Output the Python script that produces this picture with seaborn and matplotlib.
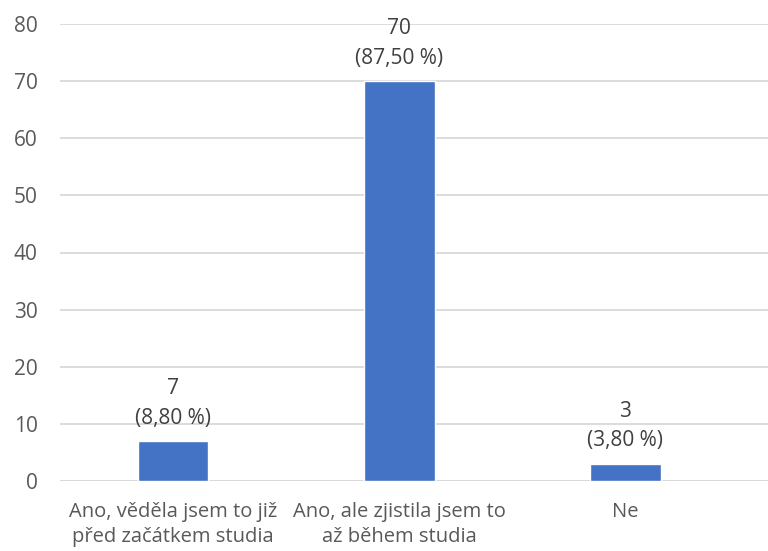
import matplotlib
matplotlib.use("Agg")
import matplotlib.pyplot as plt
import seaborn as sns
import pandas as pd

categories = ["Ano, věděla jsem to již\npřed začátkem studia",
              "Ano, ale zjistila jsem to\naž během studia",
              "Ne"]
values = [7, 70, 3]
percents = ["8,80 %", "87,50 %", "3,80 %"]

sns.set_theme(style="white")
plt.rcParams['font.family'] = ['Open Sans', 'DejaVu Sans']

df = pd.DataFrame({"cat": categories, "val": values})

fig = plt.figure(figsize=(7.68, 5.51), dpi=100)
ax = fig.add_axes([60/768, 1-481/551, 1-60/768, (481-24)/551])
sns.barplot(data=df, x="cat", y="val", color="#4472C4", width=0.313,
            saturation=1, ax=ax, zorder=3)

ax.set_ylim(0, 80)
ax.set_xlim(-0.5, 2.63)
ax.set_yticks(range(0, 81, 10))
ax.yaxis.grid(True, color="#D9D9D9", linewidth=1.3, zorder=0)
ax.set_axisbelow(True)
for s in ax.spines.values():
    s.set_visible(False)
ax.axhline(0, color="#D9D9D9", linewidth=1.3, zorder=1)
ax.set_xlabel("")
ax.set_ylabel("")
ax.tick_params(axis="y", labelsize=15, colors="#595959", pad=16, length=0)
ax.tick_params(axis="x", labelsize=14.5, colors="#595959", pad=15, length=0)
for lbl in ax.get_xticklabels():
    lbl.set_linespacing(1.35)

for i, (v, p) in enumerate(zip(values, percents)):
    ax.annotate(f"{v}\n({p})", xy=(i, v), xytext=(0, 9), textcoords="offset points",
                ha="center", va="bottom", fontsize=15, color="#404040",
                linespacing=1.55)

fig.savefig("out.png", dpi=100)
